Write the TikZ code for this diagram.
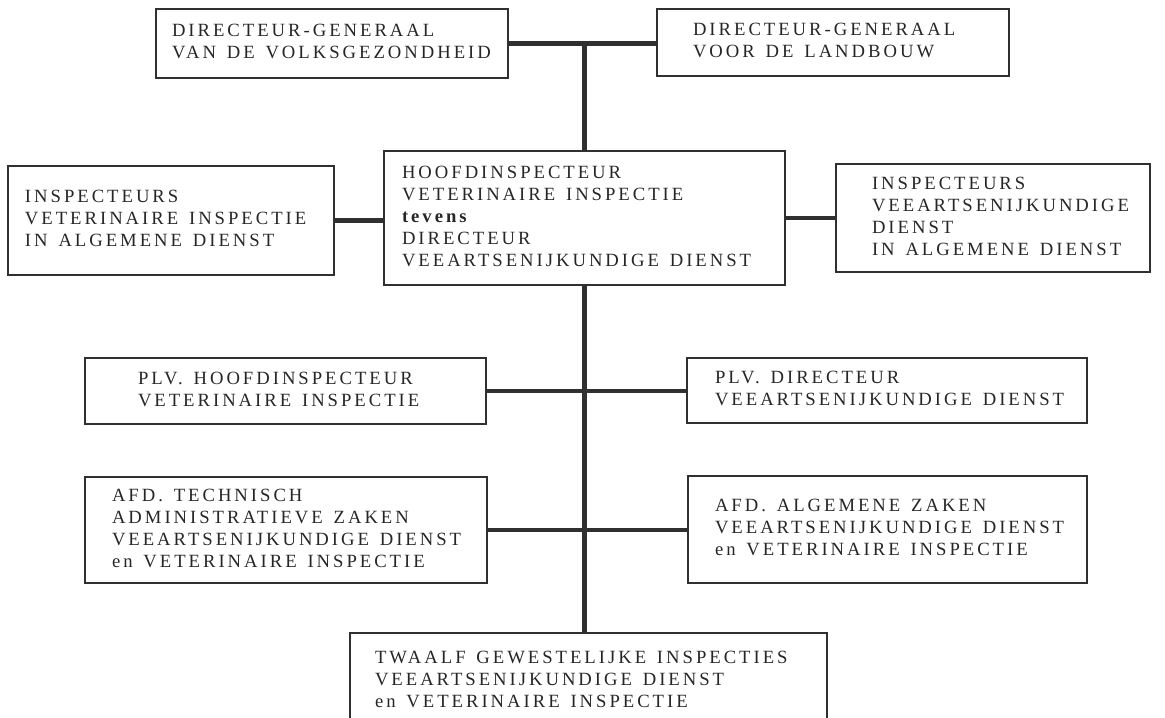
\documentclass[tikz,border=0pt]{standalone}
\usepackage{fontspec}
\setmainfont{Liberation Serif}[LetterSpace=16]
\usepackage{tikz}
\usetikzlibrary{calc}
\definecolor{Lijn}{HTML}{303030}
\newcommand{\regels}[1]{{\spaceskip=0.58em\relax\begin{tabular}{@{}l@{}}#1\end{tabular}}}

\begin{document}
\begin{tikzpicture}[x = 0.75pt, y = -0.75pt,
	dienst/.style = {draw = Lijn, line width = 1.5pt, inner sep = 0pt, align = left, text = black!85, font = \fontsize{14}{16.5}\selectfont},
	lijn/.style = {draw = Lijn, line width = 3.5pt}]
						\path [use as bounding box, draw = none] (0, 0) rectangle (1165, 718);
						\clip (0, 0) rectangle (1165, 718);
						% top
						\node[dienst, minimum width = 264pt, minimum height = 51.75pt, text width = 240pt] (dgvg) at (332, 43.5) {\regels{DIRECTEUR-GENERAAL\\VAN DE VOLKSGEZONDHEID}};
						\node[dienst, minimum width = 264pt, minimum height = 50.25pt, text width = 210pt] (dgl) at (833, 42.5) {\regels{DIRECTEUR-GENERAAL\\VOOR DE LANDBOUW}};
						% middle
						\node[dienst, minimum width = 300.75pt, minimum height = 100.5pt, text width = 273.75pt] (hoofd) at (584.5, 218) {\regels{HOOFDINSPECTEUR\\VETERINAIRE INSPECTIE\\\textbf{tevens}\\DIRECTEUR\\VEEARTSENIJKUNDIGE DIENST}};
						\node[dienst, minimum width = 244.5pt, minimum height = 81.75pt, text width = 219pt] (inspvi) at (171, 220.5) {\regels{INSPECTEURS\\VETERINAIRE INSPECTIE\\IN ALGEMENE DIENST}};
						\node[dienst, minimum width = 235.5pt, minimum height = 81pt, text width = 181.5pt] (inspvd) at (993, 218) {\regels{INSPECTEURS\\VEEARTSENIJKUNDIGE\\DIENST\\IN ALGEMENE DIENST}};
						% plv
						\node[dienst, minimum width = 300.75pt, minimum height = 49.5pt, text width = 221.25pt] (plvhi) at (285.5, 391) {\regels{PLV. HOOFDINSPECTEUR\\VETERINAIRE INSPECTIE}};
						\node[dienst, minimum width = 300pt, minimum height = 48.75pt, text width = 258pt] (plvdir) at (887, 390.5) {\regels{PLV. DIRECTEUR\\VEEARTSENIJKUNDIGE DIENST}};
						% afdelingen
						\node[dienst, minimum width = 301.5pt, minimum height = 79.5pt, text width = 261pt] (afdtech) at (286, 530) {\regels{AFD. TECHNISCH\\ADMINISTRATIEVE ZAKEN\\VEEARTSENIJKUNDIGE DIENST\\en VETERINAIRE INSPECTIE}};
						\node[dienst, minimum width = 299.25pt, minimum height = 80.25pt, text width = 258.75pt] (afdalg) at (887.5, 529.5) {\regels{AFD. ALGEMENE ZAKEN\\VEEARTSENIJKUNDIGE DIENST\\en VETERINAIRE INSPECTIE}};
						% bottom
						\node[dienst, minimum width = 357.75pt, minimum height = 72.75pt, text width = 320.25pt] (twaalf) at (588.5, 681.5) {\regels{TWAALF GEWESTELIJKE INSPECTIES\\VEEARTSENIJKUNDIGE DIENST\\en VETERINAIRE INSPECTIE}};
						% lines
						\draw[lijn] (dgvg.east) -- (dgvg.east -| dgl.west);
						\draw[lijn] (hoofd.north) -- (hoofd.north |- dgvg.east);
						\draw[lijn] (hoofd.south) -- (hoofd.south |- twaalf.north);
						\draw[lijn] (inspvi.east) -- (inspvi.east -| hoofd.west);
						\draw[lijn] (hoofd.east |- inspvd.west) -- (inspvd.west);
						\draw[lijn] (plvhi.east) -- (plvhi.east -| plvdir.west);
						\draw[lijn] (afdtech.east) -- (afdtech.east -| afdalg.west);
					\end{tikzpicture}
\end{document}
